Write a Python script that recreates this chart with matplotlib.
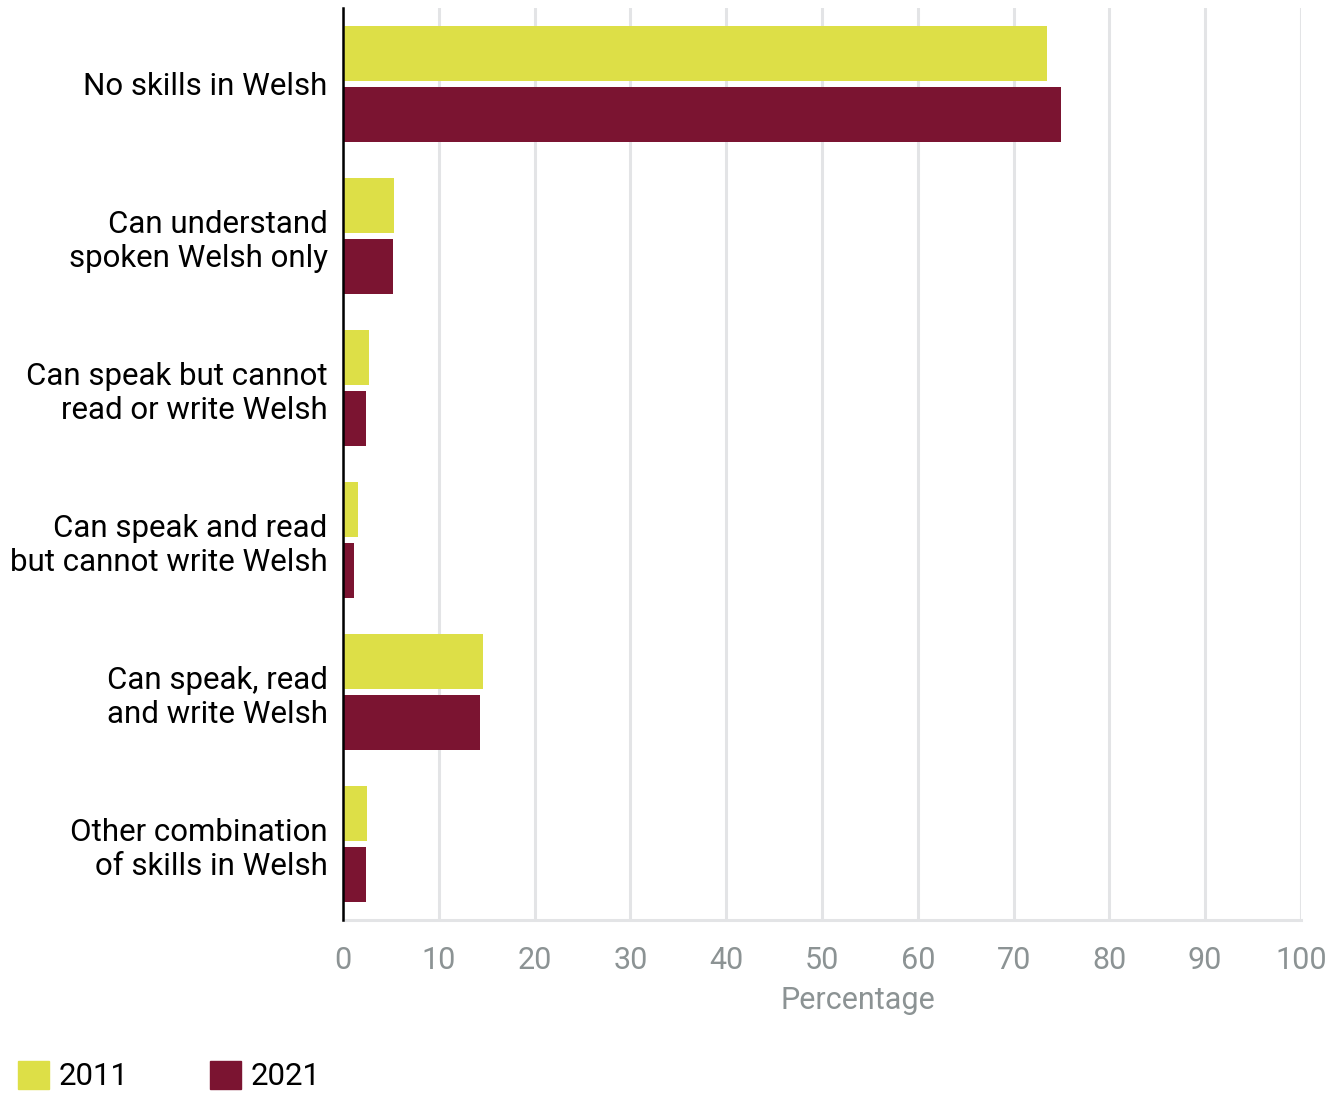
import matplotlib.pyplot as plt
import numpy as np
from matplotlib.patches import Patch

plt.rcParams['font.family'] = ['Roboto', 'DejaVu Sans']

categories = ["No skills in Welsh", "Can understand\nspoken Welsh only",
              "Can speak but cannot\nread or write Welsh", "Can speak and read\nbut cannot write Welsh",
              "Can speak, read\nand write Welsh", "Other combination\nof skills in Welsh"]
v2011 = [73.5, 5.3, 2.7, 1.6, 14.6, 2.5]
v2021 = [75.0, 5.2, 2.4, 1.1, 14.3, 2.4]
xticks = [0, 10, 20, 30, 40, 50, 60, 70, 80, 90, 100]

yellow = "#dddf47"
maroon = "#7b1431"
grey = "#8c9394"

fig = plt.figure(figsize=(13.43, 10.93), dpi=100)
ax = fig.add_axes([0.2554, 0.1583, 0.7133, 0.8344])

y = np.arange(len(categories))
h = 0.36
ax.barh(y - 0.2, v2011, height=h, color=yellow, zorder=2)
ax.barh(y + 0.2, v2021, height=h, color=maroon, zorder=2)

ax.set_ylim(len(categories) - 0.5, -0.5)
ax.set_xlim(0, 100)
ax.set_yticks(y)
ax.set_yticklabels(categories, fontsize=22.5, color="black", linespacing=1.22)
ax.set_xticks(xticks)
ax.set_xticklabels([str(t) for t in xticks], fontsize=22, color=grey)
ax.tick_params(length=0)
ax.tick_params(axis="x", pad=18.5)
ax.tick_params(axis="y", pad=11)

ax.grid(axis="x", color="#e3e4e6", linewidth=2.2, zorder=0)
for s in ["top", "right"]:
    ax.spines[s].set_visible(False)
ax.spines["bottom"].set_color("#e3e4e6")
ax.spines["bottom"].set_linewidth(2.2)
ax.spines["left"].set_color("black")
ax.spines["left"].set_linewidth(1.8)
ax.spines["left"].set_zorder(3)

ax.set_xlabel("Percentage", fontsize=22, color=grey)
ax.xaxis.set_label_coords(0.537, -0.072)

handles = [Patch(color=yellow, label="2011"), Patch(color=maroon, label="2021")]
fig.legend(handles=handles, loc="lower left", bbox_to_anchor=(0.012, 0.0), ncol=2,
           frameon=False, fontsize=22.5, handlelength=1.0, handleheight=1.0,
           handletextpad=0.3, columnspacing=2.6, borderpad=0.05, borderaxespad=0)

fig.savefig("out.png", dpi=100)
